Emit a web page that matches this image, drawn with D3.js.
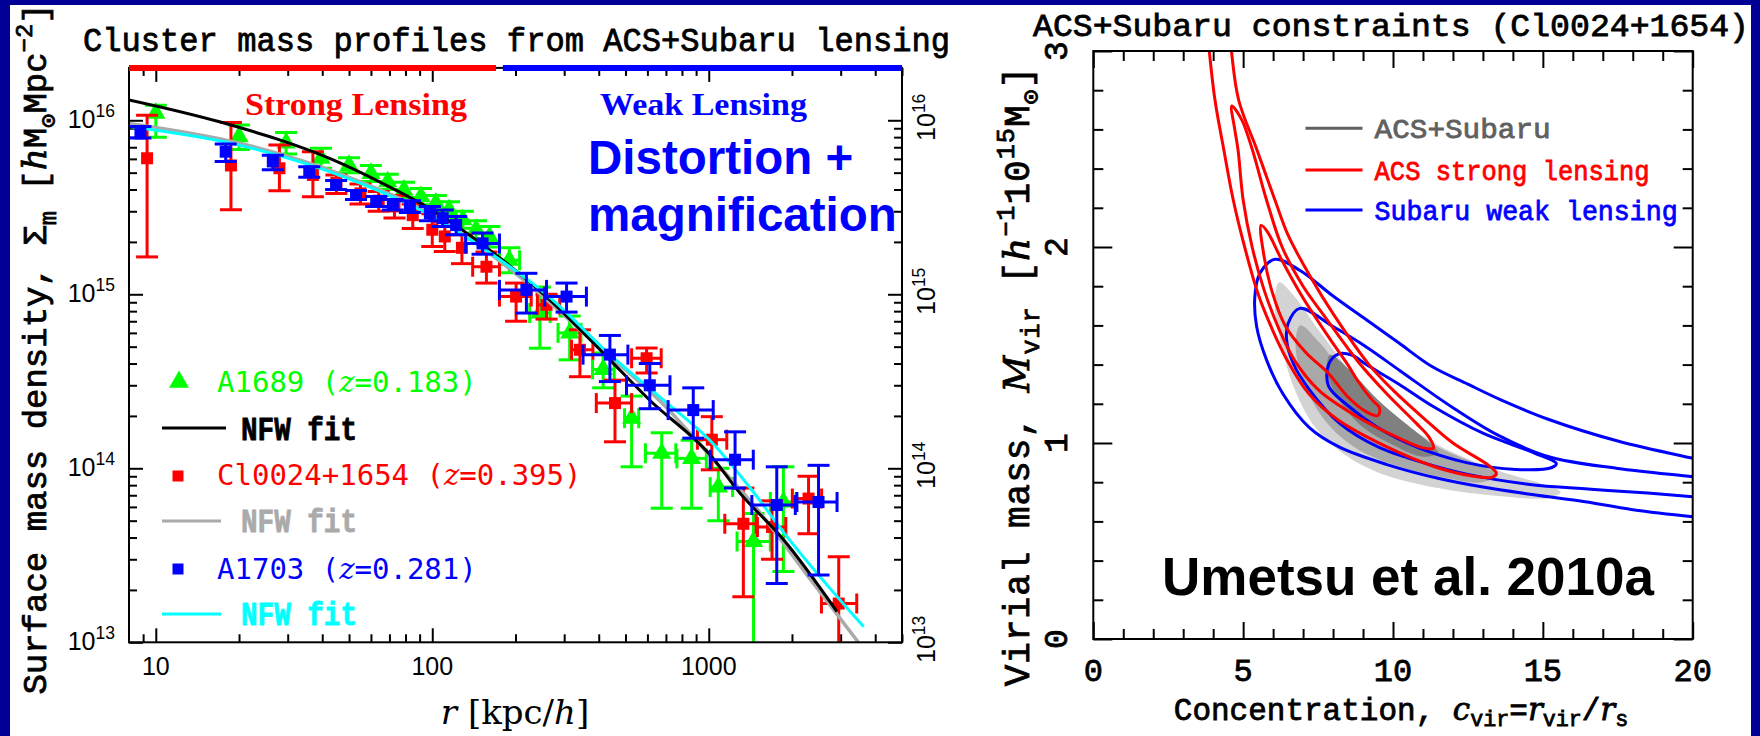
<!DOCTYPE html>
<html><head><meta charset="utf-8">
<script src="https://cdn.jsdelivr.net/npm/d3@7"></script>
<style>body{margin:0;background:#000096;overflow:hidden}svg{display:block}</style>
</head><body><svg id="c" width="1760" height="736"></svg>
<script>
// ---------------- LEFT PANEL DATA ----------------
// [r (kpc/h), Sigma, Sigma_lo, Sigma_hi, r_lo, r_hi]
const a1689 = [
 [10,1.10e16,8.0e15,1.22e16,null,null],[20,8.05e15,6.8e15,9.4e15,null,null],
 [29.6,7.4e15,6.4e15,8.5e15,null,null],[39.6,6.05e15,5.3e15,6.9e15,null,null],
 [50,5.5e15,5.0e15,6.1e15,null,null],[60,4.95e15,4.45e15,5.5e15,null,null],
 [69,4.43e15,4.0e15,4.9e15,null,null],[79,3.97e15,3.6e15,4.4e15,null,null],
 [91,3.64e15,3.27e15,4.05e15,null,null],[103,3.34e15,3.0e15,3.7e15,null,null],
 [115,3.06e15,2.75e15,3.4e15,null,null],[129,2.68e15,2.4e15,3.0e15,null,null],
 [144,2.35e15,2.08e15,2.65e15,null,null],[161,2.14e15,1.87e15,2.45e15,null,null],
 [190,1.57e15,1.33e15,1.85e15,175,207],[245,7.8e14,4.9e14,1.1e15,225,267],
 [314,6.0e14,4.2e14,7.5e14,285,345],[415,3.7e14,2.9e14,4.6e14,380,455],
 [526,1.94e14,1.02e14,2.6e14,496,558],[676,1.22e14,5.9e13,1.6e14,590,760],
 [867,1.14e14,5.9e13,1.45e14,767,980],[1083,7.8e13,5.0e13,1.0e14,1012,1220],
 [1452,3.8e13,8e12,5.5e13,1266,1670],[1862,6.4e13,2.55e13,1.02e14,1670,2070]
];
const cl0024 = [
 [9.3,6.05e15,1.64e15,1.07e16,null,null],[18.7,5.5e15,3.06e15,9.7e15,null,null],
 [28,5.3e15,3.94e15,7.2e15,null,null],[37,4.85e15,3.64e15,6.6e15,null,null],
 [45,4.36e15,3.8e15,4.85e15,null,null],[55,3.8e15,3.3e15,4.3e15,null,null],
 [64,3.45e15,3.0e15,3.9e15,null,null],[73,3.2e15,2.74e15,3.7e15,null,null],
 [85,2.85e15,2.39e15,3.3e15,null,null],[100,2.35e15,1.88e15,2.9e15,null,null],
 [111,2.15e15,1.76e15,2.6e15,null,null],[128,1.85e15,1.5e15,2.2e15,null,null],
 [157,1.44e15,1.16e15,1.75e15,140,175],[201,9.7e14,7.0e14,1.16e15,175,228],
 [259,8.7e14,7.2e14,1.0e15,240,289],[342,4.8e14,3.36e14,6.25e14,319,381],
 [458,2.37e14,1.42e14,3.21e14,392,526],[596,4.29e14,3.53e14,4.91e14,526,673],
 [1026,1.46e14,9.8e13,1.98e14,910,1162],[1334,4.8e13,1.83e13,7.7e13,1143,1485],
 [1694,4.6e13,3.0e13,6.5e13,1500,1900],[2296,6.7e13,4.2e13,9.0e13,2006,2560],
 [2952,1.67e13,9e12,3.1e13,2556,3430]
];
const a1703 = [
 [8.8,8.4e15,7.9e15,9.2e15,null,null],[17.9,6.6e15,5.8e15,7.3e15,null,null],
 [26.5,5.8e15,5.2e15,6.3e15,null,null],[35.9,5.07e15,4.7e15,5.4e15,null,null],
 [44.9,4.25e15,4.0e15,4.5e15,null,null],[53,3.72e15,3.5e15,3.95e15,null,null],
 [62.7,3.41e15,3.2e15,3.65e15,null,null],[72,3.26e15,3.05e15,3.5e15,null,null],
 [83,3.19e15,2.95e15,3.45e15,null,null],[98,2.92e15,2.65e15,3.2e15,null,null],
 [109,2.74e15,2.45e15,3.05e15,null,null],[122,2.5e15,2.2e15,2.8e15,null,null],
 [152,1.96e15,1.7e15,2.25e15,132,175],[219,1.06e15,7.8e14,1.32e15,175,259],
 [306,9.7e14,7.9e14,1.16e15,255,361],[439,4.5e14,3.15e14,5.8e14,351,510],
 [612,3.0e14,2.2e14,4.0e14,504,724],[879,2.16e14,1.49e14,2.9e14,713,1038],
 [1245,1.12e14,7.7e13,1.62e14,1012,1449],[1762,6.15e13,2.18e13,1.02e14,1432,2056],
 [2495,6.4e13,2.44e13,1.04e14,2084,2911]
];
// NFW fit curves: [r, Sigma]
const nfwA1689 = [[8,1.31e16],[17,9.8e15],[44,5.9e15],[65,4.4e15],[100,3.05e15],[161,1.8e15],[266,9.3e14],[439,4.2e14],[612,2.46e14],[1009,1.2e14],[1297,7.2e13],[1862,3.9e13],[2910,1.5e13]];
const nfwCl0024 = [[8,9.6e15],[20,7.4e15],[50,4.7e15],[100,2.85e15],[200,1.32e15],[400,5.0e14],[700,2.25e14],[1000,1.2e14],[1500,5.8e13],[2200,2.6e13],[3475,1.0e13]];
const nfwA1703 = [[8,9.2e15],[20,7.2e15],[50,4.6e15],[100,2.8e15],[160,1.75e15],[266,9.6e14],[439,4.5e14],[700,2.4e14],[1009,1.45e14],[1413,7.7e13],[1862,4.3e13],[3630,1.23e13]];
const regimes = [{r0:8,r1:170,color:"#ff0000"},{r0:180,r1:5000,color:"#0000ff"}];
const xMajorL = [10,100,1000], xMajorLabels = ["10","100","1000"];
const yMajorL = [1e13,1e14,1e15,1e16], yExpLabels = ["13","14","15","16"];

// ---------------- RIGHT PANEL DATA ----------------
// contours in (c_vir, M_vir) coordinates
const grayLight = [[6.2,1.82],[6.7,1.75],[7.5,1.58],[8.5,1.38],[9.8,1.17],[11.5,0.99],[13.5,0.86],[15.0,0.79],[15.6,0.75],[15.2,0.72],[13.5,0.73],[11.5,0.77],[9.5,0.85],[8.3,0.95],[7.4,1.08],[6.7,1.28],[6.2,1.55],[6.05,1.72]];
const grayMid = [[6.9,1.60],[7.5,1.52],[8.5,1.33],[9.8,1.14],[11.5,0.98],[13.0,0.88],[13.5,0.84],[13.0,0.80],[11.5,0.83],[10,0.89],[8.7,0.98],[7.7,1.12],[7.0,1.32],[6.75,1.5]];
const grayDark = [[7.9,1.45],[8.5,1.38],[9.5,1.22],[10.5,1.09],[11.3,0.99],[11.5,0.95],[11.0,0.93],[10,0.99],[9.0,1.08],[8.2,1.22],[7.8,1.36]];
const redOuter = [[3.7,3.3],[3.87,3.0],[4.06,2.75],[4.35,2.5],[4.67,2.24],[5.05,2.0],[5.5,1.76],[6.0,1.57],[6.48,1.42],[7.2,1.25],[8.17,1.117],[9.78,0.981],[11.39,0.879],[12.7,0.83],[13.3,0.825],[13.45,0.845],[13.2,0.885],[12.0,1.0],[11.0,1.13],[10.0,1.27],[9.2,1.40],[8.0,1.66],[7.2,1.86],[6.5,2.06],[6.06,2.24],[5.45,2.5],[4.85,2.75],[4.61,3.0],[4.45,3.3]];
const redMiddle = [[4.62,2.72],[4.72,2.6],[4.83,2.495],[5.0,2.24],[5.3,2.0],[5.7,1.78],[6.2,1.58],[6.72,1.42],[7.52,1.27],[8.81,1.134],[10.1,1.032],[11.0,0.975],[11.35,0.975],[11.2,1.03],[10.78,1.10],[9.8,1.25],[8.81,1.42],[7.7,1.65],[7.0,1.8],[6.3,2.0],[5.78,2.24],[5.3,2.5],[4.95,2.65]];
const redInner = [[5.6,2.11],[5.7,1.95],[5.95,1.78],[6.4,1.6],[7.1,1.46],[7.85,1.355],[8.49,1.236],[9.1,1.16],[9.5,1.14],[9.55,1.18],[9.3,1.22],[8.81,1.32],[8.49,1.40],[7.9,1.53],[7.0,1.74],[6.3,1.93],[5.8,2.08]];
const blueOuter = [[21,0.61],[20,0.624],[18,0.66],[16.2,0.705],[14.5,0.74],[13,0.775],[11.5,0.82],[9.8,0.89],[8.2,0.98],[7.2,1.08],[6.33,1.25],[5.78,1.424],[5.45,1.594],[5.39,1.747],[5.56,1.866],[6.06,1.937],[6.9,1.88],[8.0,1.75],[9.1,1.63],[10.2,1.51],[11.3,1.39],[12.5,1.30],[13.6,1.22],[15.2,1.12],[17.5,1.01],[20,0.922],[21,0.89]];
const blueMiddle = [[21,0.715],[20,0.726],[18.5,0.745],[16.5,0.765],[14.5,0.79],[12.5,0.84],[11,0.90],[9.5,0.98],[8.22,1.10],[7.22,1.27],[6.67,1.407],[6.45,1.526],[6.5,1.61],[6.89,1.687],[8.0,1.594],[9.11,1.49],[10.22,1.37],[12,1.18],[13.5,1.04],[15.2,0.93],[17.5,0.87],[20,0.828],[21,0.81]];
const blueInner = [[8.17,1.454],[7.85,1.40],[7.85,1.29],[8.5,1.19],[9.45,1.083],[10.78,0.98],[12.45,0.90],[14.1,0.865],[15.3,0.875],[15.45,0.895],[14.7,0.95],[13.0,1.05],[11.3,1.19],[10.2,1.30],[9.11,1.40],[8.6,1.45]];
const xMajorR = [0,5,10,15,20], xLabelsR = ["0","5","10","15","20"];
const yMajorR = [0,1,2,3], yLabelsR = ["0","1","2","3"];

// ---------------- DRAW ----------------
const svg = d3.select("#c");
svg.append("rect").attr("width",1760).attr("height",736).attr("fill","#000096");
svg.append("rect").attr("x",10).attr("y",5).attr("width",1741).attr("height",731).attr("fill","#fff");

function rich(t, segs, base, subK){
  const sk = subK==null ? 0.28 : subK;
  let cur=0;
  segs.forEach(s=>{
    const target = s.sup ? -0.42*base : (s.sub ? sk*base : 0);
    const ts = t.append("tspan").attr("dy", target-cur).text(s.t);
    cur = target;
    if(s.sup||s.sub) ts.attr("font-size", base*0.7);
    if(s.i) ts.attr("font-style","italic");
    if(s.b) ts.attr("font-weight","bold");
    if(s.f) ts.attr("font-family", s.f);
  });
  return t;
}
function styleAxis(g){ g.select(".domain").remove(); g.selectAll("line").attr("stroke","#000").attr("stroke-width",2); g.selectAll("text").remove(); }

const serif = "DejaVu Serif, serif";
const cour = "Liberation Mono, Courier New, monospace";
const sans = "Liberation Sans, Arial, sans-serif";
// typewriter text helper (slightly thickened strokes)
function tt(sel, color){ return sel.attr("font-family",cour).attr("fill",color).attr("stroke",color).attr("stroke-width",0.8); }

// ===== LEFT =====
const xL = d3.scaleLog().domain([8,5000]).range([129,902]);
const yL = d3.scaleLog().domain([1e13,2e16]).range([642.3,67.9]);
const L = svg.append("g");
const minorX = [9,20,30,40,50,60,70,80,90,200,300,400,500,600,700,800,900,2000,3000,4000,5000];
const minorY = [];
[1e13,1e14,1e15].forEach(b=>{ for(let k=2;k<=9;k++) minorY.push(b*k); });

[[d3.axisBottom,642.3],[d3.axisTop,67.9]].forEach(([f,pos])=>{
  L.append("g").attr("transform",`translate(0,${pos})`).call(f(xL).tickValues(xMajorL).tickSize(-14).tickSizeOuter(0)).call(styleAxis);
  L.append("g").attr("transform",`translate(0,${pos})`).call(f(xL).tickValues(minorX).tickSize(-8).tickSizeOuter(0)).call(styleAxis);
});
[[d3.axisLeft,129],[d3.axisRight,902]].forEach(([f,pos])=>{
  L.append("g").attr("transform",`translate(${pos},0)`).call(f(yL).tickValues(yMajorL).tickSize(-14).tickSizeOuter(0)).call(styleAxis);
  L.append("g").attr("transform",`translate(${pos},0)`).call(f(yL).tickValues(minorY).tickSize(-8).tickSizeOuter(0)).call(styleAxis);
});

svg.append("clipPath").attr("id","clipL").append("rect").attr("x",129).attr("y",67.9).attr("width",773).attr("height",574.4);
const LP = L.append("g").attr("clip-path","url(#clipL)");

function drawSeries(data,color,shape){
  const g = LP.append("g").attr("stroke",color).attr("stroke-width",3).attr("fill","none");
  data.forEach(d=>{
    const [r,s,lo,hi,rl,rh]=d;
    const x=xL(r), y=yL(s), y0=yL(lo), y1=yL(hi);
    g.append("line").attr("x1",x).attr("x2",x).attr("y1",y0).attr("y2",y1);
    g.append("line").attr("x1",x-11).attr("x2",x+11).attr("y1",y1).attr("y2",y1);
    g.append("line").attr("x1",x-11).attr("x2",x+11).attr("y1",y0).attr("y2",y0);
    if(rl!=null){
      const xa=xL(rl), xb=xL(rh);
      g.append("line").attr("x1",xa).attr("x2",xb).attr("y1",y).attr("y2",y);
      g.append("line").attr("x1",xa).attr("x2",xa).attr("y1",y-10).attr("y2",y+10);
      g.append("line").attr("x1",xb).attr("x2",xb).attr("y1",y-10).attr("y2",y+10);
    }
  });
  const m = LP.append("g").attr("fill",color);
  data.forEach(d=>{
    const x=xL(d[0]), y=yL(d[1]);
    if(shape==="tri") m.append("path").attr("transform",`translate(${x},${y})`).attr("d",d3.symbol(d3.symbolTriangle,160)());
    else m.append("rect").attr("x",x-6).attr("y",y-6).attr("width",12).attr("height",12);
  });
}
const lineL = d3.line().x(d=>xL(d[0])).y(d=>yL(d[1])).curve(d3.curveMonotoneX);
drawSeries(a1689,"#00ff00","tri");
drawSeries(cl0024,"#ff0000","sq");
LP.append("path").datum(nfwCl0024).attr("d",lineL).attr("fill","none").attr("stroke","#aaaaaa").attr("stroke-width",3.5);
LP.append("path").datum(nfwA1689).attr("d",lineL).attr("fill","none").attr("stroke","#000").attr("stroke-width",3);
LP.append("path").datum(nfwA1703).attr("d",lineL).attr("fill","none").attr("stroke","#00ffff").attr("stroke-width",3);
drawSeries(a1703,"#0000ff","sq");

L.append("rect").attr("x",129).attr("y",67.9).attr("width",773).attr("height",574.4).attr("fill","none").attr("stroke","#000").attr("stroke-width",2);
regimes.forEach(d=>{
  L.append("rect").attr("x",xL(d.r0)).attr("y",65).attr("width",xL(d.r1)-xL(d.r0)).attr("height",6).attr("fill",d.color);
});

// tick labels
xMajorL.forEach((v,i)=>{
  L.append("text").attr("x",xL(v)).attr("y",675).attr("text-anchor","middle").attr("font-family",sans).attr("font-size",25).text(xMajorLabels[i]);
});
yMajorL.forEach((v,i)=>{
  const t = L.append("text").attr("x",115).attr("y",yL(v)+7.5).attr("text-anchor","end").attr("font-family",sans).attr("font-size",25);
  rich(t,[{t:"10"},{t:yExpLabels[i],sup:true}],25);
  const t2 = L.append("text").attr("transform",`translate(935,${yL(v)-3}) rotate(-90)`).attr("text-anchor","middle").attr("font-family",sans).attr("font-size",25);
  rich(t2,[{t:"10"},{t:yExpLabels[i],sup:true}],25);
});

// titles & labels
tt(L.append("text"),"#000").attr("x",83).attr("y",51).attr("font-size",34).attr("textLength",867).attr("lengthAdjust","spacingAndGlyphs").text("Cluster mass profiles from ACS+Subaru lensing");
L.append("text").attr("x",245).attr("y",115).attr("font-family","Liberation Serif, serif").attr("font-weight","bold").attr("font-size",31).attr("fill","#ff0000").attr("textLength",222).attr("lengthAdjust","spacingAndGlyphs").text("Strong Lensing");
L.append("text").attr("x",600).attr("y",115).attr("font-family","Liberation Serif, serif").attr("font-weight","bold").attr("font-size",31).attr("fill","#0000ff").attr("textLength",207).attr("lengthAdjust","spacingAndGlyphs").text("Weak Lensing");
L.append("text").attr("x",588).attr("y",174).attr("font-family",sans).attr("font-weight","bold").attr("font-size",47.5).attr("fill","#0000ff").text("Distortion +");
L.append("text").attr("x",588).attr("y",231).attr("font-family",sans).attr("font-weight","bold").attr("font-size",47.5).attr("fill","#0000ff").text("magnification");

const yl = tt(L.append("text"),"#000").attr("transform","translate(46,349) rotate(-90)").attr("text-anchor","middle").attr("font-size",34);
rich(yl,[{t:"Surface mass density, Σ"},{t:"m",sub:true},{t:" ["},{t:"h",i:true,f:serif},{t:"M"},{t:"⊙",sub:true},{t:"Mpc"},{t:"−2",sup:true},{t:"]"}],34);
const xl = L.append("text").attr("x",515).attr("y",724).attr("text-anchor","middle").attr("font-family",serif).attr("font-size",34);
rich(xl,[{t:"r",i:true},{t:" [kpc/"},{t:"h",i:true},{t:"]"}],34);

// legend
const mono = "DejaVu Sans Mono, monospace";
const leg = L.append("g").attr("font-family",mono).attr("font-size",29);
leg.append("path").attr("transform","translate(179,382)").attr("d",d3.symbol(d3.symbolTriangle,170)()).attr("fill","#00ff00");
rich(leg.append("text").attr("x",217).attr("y",392).attr("fill","#00ff00"),[{t:"A1689 ("},{t:"z",i:true,f:serif},{t:"=0.183)"}],29);
leg.append("line").attr("x1",162).attr("x2",226).attr("y1",428).attr("y2",428).attr("stroke","#000").attr("stroke-width",3);
leg.append("rect").attr("x",172.5).attr("y",470.5).attr("width",11).attr("height",11).attr("fill","#ff0000");
rich(leg.append("text").attr("x",217).attr("y",485).attr("fill","#ff0000"),[{t:"Cl0024+1654 ("},{t:"z",i:true,f:serif},{t:"=0.395)"}],29);
leg.append("line").attr("x1",162).attr("x2",221).attr("y1",521).attr("y2",521).attr("stroke","#aaaaaa").attr("stroke-width",3);
leg.append("rect").attr("x",172.5).attr("y",563.5).attr("width",11).attr("height",11).attr("fill","#0000ff");
rich(leg.append("text").attr("x",217).attr("y",579).attr("fill","#0000ff"),[{t:"A1703 ("},{t:"z",i:true,f:serif},{t:"=0.281)"}],29);
leg.append("line").attr("x1",162).attr("x2",221).attr("y1",614).attr("y2",614).attr("stroke","#00ffff").attr("stroke-width",3);
[[440,"#000"],[532,"#aaaaaa"],[625,"#00ffff"]].forEach(([y,c])=>
  tt(leg.append("text"),c).attr("x",241).attr("y",y).attr("font-weight","bold").attr("font-size",34).attr("textLength",116).attr("lengthAdjust","spacingAndGlyphs").text("NFW fit"));

// ===== RIGHT =====
const xR = d3.scaleLinear().domain([0,20]).range([1093.3,1692.7]);
const yR = d3.scaleLinear().domain([0,3]).range([639,51]);
const R = svg.append("g");
svg.append("clipPath").attr("id","clipR").append("rect").attr("x",1093.3).attr("y",51).attr("width",599.4).attr("height",588);
const RP = R.append("g").attr("clip-path","url(#clipR)");
const closedR = d3.line().x(d=>xR(d[0])).y(d=>yR(d[1])).curve(d3.curveCatmullRomClosed.alpha(0.5));
const openR = d3.line().x(d=>xR(d[0])).y(d=>yR(d[1])).curve(d3.curveCatmullRom.alpha(0.5));
[[grayLight,"#d3d3d3"],[grayMid,"#a9a9a9"],[grayDark,"#808080"]].forEach(([d,c])=>RP.append("path").datum(d).attr("d",closedR).attr("fill",c));
[[blueOuter,openR],[blueMiddle,openR],[blueInner,closedR]].forEach(([d,f])=>RP.append("path").datum(d).attr("d",f).attr("fill","none").attr("stroke","#0000ff").attr("stroke-width",3));
[[redOuter,openR],[redMiddle,closedR],[redInner,closedR]].forEach(([d,f])=>RP.append("path").datum(d).attr("d",f).attr("fill","none").attr("stroke","#ff0000").attr("stroke-width",3));

const minorXR = d3.range(1,20).filter(v=>v%5!==0);
const minorYR = d3.range(1,15).filter(v=>v%5!==0).map(v=>v/5);
[[d3.axisBottom,639],[d3.axisTop,51]].forEach(([f,pos])=>{
  R.append("g").attr("transform",`translate(0,${pos})`).call(f(xR).tickValues(xMajorR).tickSize(-17).tickSizeOuter(0)).call(styleAxis);
  R.append("g").attr("transform",`translate(0,${pos})`).call(f(xR).tickValues(minorXR).tickSize(-10).tickSizeOuter(0)).call(styleAxis);
});
[[d3.axisLeft,1093.3],[d3.axisRight,1692.7]].forEach(([f,pos])=>{
  R.append("g").attr("transform",`translate(${pos},0)`).call(f(yR).tickValues(yMajorR).tickSize(-19).tickSizeOuter(0)).call(styleAxis);
  R.append("g").attr("transform",`translate(${pos},0)`).call(f(yR).tickValues(minorYR).tickSize(-10).tickSizeOuter(0)).call(styleAxis);
});
R.append("rect").attr("x",1093.3).attr("y",51).attr("width",599.4).attr("height",588).attr("fill","none").attr("stroke","#000").attr("stroke-width",2);

xMajorR.forEach((v,i)=>tt(R.append("text"),"#000").attr("x",xR(v)).attr("y",681).attr("text-anchor","middle").attr("font-size",32).text(xLabelsR[i]));
yMajorR.forEach((v,i)=>tt(R.append("text"),"#000").attr("transform",`translate(1067,${yR(v)}) rotate(-90)`).attr("text-anchor","middle").attr("font-size",33).text(yLabelsR[i]));

tt(R.append("text"),"#000").attr("x",1033).attr("y",36).attr("font-size",32).attr("textLength",716).attr("lengthAdjust","spacingAndGlyphs").text("ACS+Subaru constraints (Cl0024+1654)");
const xlr = tt(R.append("text"),"#000").attr("x",1401).attr("y",720).attr("text-anchor","middle").attr("font-size",31);
rich(xlr,[{t:"Concentration, "},{t:"c",i:true,f:serif},{t:"vir",sub:true},{t:"="},{t:"r",i:true,f:serif},{t:"vir",sub:true},{t:"/"},{t:"r",i:true,f:serif},{t:"s",sub:true}],31,0.2);
const ylr = tt(R.append("text"),"#000").attr("transform","translate(1029,376) rotate(-90)").attr("text-anchor","middle").attr("font-size",36).attr("letter-spacing",1);
rich(ylr,[{t:"Virial mass, "},{t:"M",i:true,f:serif},{t:"vir",sub:true},{t:" ["},{t:"h",i:true,f:serif},{t:"−1",sup:true},{t:"10"},{t:"15",sup:true},{t:"M"},{t:"⊙",sub:true},{t:"]"}],36);

// legend right
[["#606060","ACS+Subaru",128.3,138,176],["#ff0000","ACS strong lensing",170,180,275],["#0000ff","Subaru weak lensing",210,220,303]].forEach(([c,t,ly,ty,w])=>{
  R.append("line").attr("x1",1305.5).attr("x2",1362.5).attr("y1",ly).attr("y2",ly).attr("stroke",c).attr("stroke-width",3);
  tt(R.append("text"),c).attr("x",1374.6).attr("y",ty).attr("font-size",28).attr("textLength",w).attr("lengthAdjust","spacingAndGlyphs").text(t);
});
R.append("text").attr("x",1162).attr("y",595).attr("font-family",sans).attr("font-weight","bold").attr("font-size",53).attr("fill","#000").text("Umetsu et al. 2010a");
</script></body></html>
